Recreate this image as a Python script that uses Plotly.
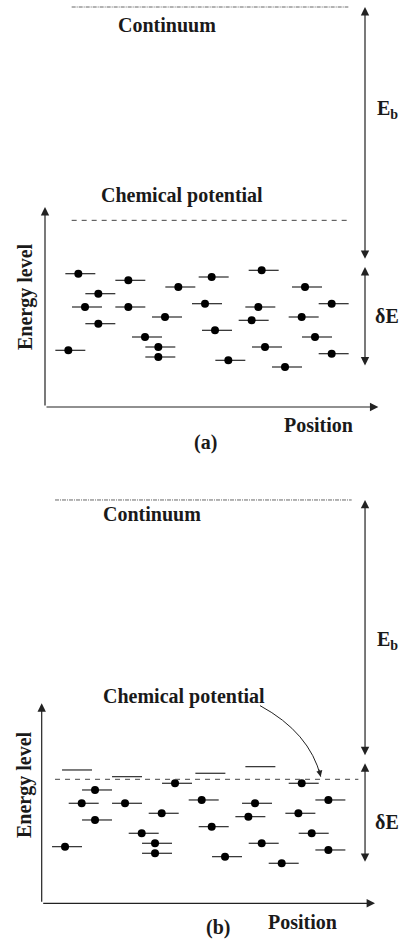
import plotly.graph_objects as go

# ---------------- data ----------------
level_position = [10, 25, 16, 40, 50, 65, 78, 12, 25, 48, 64, 86, 16,
                  36, 62, 77, 51, 30, 81, 7, 34, 34, 66, 86, 55, 72]
level_energy = [40, 38, 34, 36, 39, 41, 36, 30, 30, 31, 30, 31, 25,
                27, 26, 27, 23, 21, 21, 17, 18, 15, 18, 16, 14, 12]

continuum_a = 120
continuum_b = 121
chem_pot_a = 56
chem_pot_b = 37.2
band_top = 42
band_bottom = 12
eb_bottom = 44
axis_len_x = 100
axis_len_y = 60

# ---------------- layout constants ----------------
W, H = 404, 941
U = 10 / 3  # px per unit
FONT = "Liberation Serif"
TXT = "#1a1a1a"
LINE = "#3a3a3a"

# pixel origins of the two panels
ORG_A = (45.0, 407.0)
ORG_B = (41.7, 903.3)
SPLIT = 470

fig = go.Figure()


def panel(xa, ya, mu, cont, cont_span, mu_span, arrow_x, labels, curve=None):
    # level lines
    lx, ly = [], []
    for p, e in zip(level_position, level_energy):
        lx += [p - 3.9, p + 5.1, None]
        ly += [e, e, None]
    fig.add_trace(go.Scatter(x=lx, y=ly, mode="lines", xaxis=xa, yaxis=ya,
                             line=dict(color=LINE, width=1.3), hoverinfo="skip"))
    # occupied levels (below chemical potential)
    dx = [p for p, e in zip(level_position, level_energy) if e < mu]
    dy = [e for p, e in zip(level_position, level_energy) if e < mu]
    fig.add_trace(go.Scatter(x=dx, y=dy, mode="markers", xaxis=xa, yaxis=ya,
                             marker=dict(color="black", size=8), hoverinfo="skip"))
    # continuum line
    fig.add_trace(go.Scatter(x=list(cont_span), y=[cont, cont], mode="lines",
                             xaxis=xa, yaxis=ya, hoverinfo="skip",
                             line=dict(color="#666", width=1, dash="4px,1px,1px,1px")))
    # chemical potential
    fig.add_trace(go.Scatter(x=list(mu_span), y=[mu, mu], mode="lines",
                             xaxis=xa, yaxis=ya, hoverinfo="skip",
                             line=dict(color="#444", width=1, dash="5px,5px")))
    arrow_common = dict(xref=xa, yref=ya, axref=xa, ayref=ya, text="",
                        showarrow=True, arrowhead=2, arrowsize=1.4,
                        arrowwidth=1.2, arrowcolor="#222", standoff=0,
                        startstandoff=0)
    # coordinate axes
    fig.add_annotation(x=0, y=axis_len_y, ax=0, ay=0, **arrow_common)
    fig.add_annotation(x=axis_len_x, y=0, ax=0, ay=0, **arrow_common)
    # Eb and dE double arrows
    fig.add_annotation(x=arrow_x, y=cont, ax=arrow_x, ay=eb_bottom,
                       arrowside="end+start", **arrow_common)
    fig.add_annotation(x=arrow_x, y=band_top, ax=arrow_x, ay=band_bottom,
                       arrowside="end+start", **arrow_common)
    for txt, x, y, rot in labels:
        fig.add_annotation(x=x, y=y, xref=xa, yref=ya, text=txt, showarrow=False,
                           xanchor="center", yanchor="middle", textangle=rot,
                           font=dict(family=FONT, size=20, color=TXT))
    if curve is not None:
        (x0, y0), (cx, cy), (x1, y1) = curve
        fig.add_shape(type="path", xref=xa, yref=ya,
                      path=f"M {x0},{y0} Q {cx},{cy} {x1},{y1}",
                      line=dict(color="#222", width=1))
        fig.add_annotation(x=x1, y=y1, ax=x1 - 0.6, ay=y1 + 2.6,
                           xref=xa, yref=ya, axref=xa, ayref=ya, text="",
                           showarrow=True, arrowhead=2, arrowsize=1.2,
                           arrowwidth=1, arrowcolor="#222", standoff=0)


panel("x", "y", chem_pot_a, continuum_a, (8, 91), (8, 91), 96,
      [("<b>Continuum</b>", 36.6, 114.6, 0),
       ("<b>Chemical potential</b>", 41.1, 63.6, 0),
       ("<b>E<sub>b</sub></b>", 102.6, 89.4, 0),
       ("<b>δE</b>", 102.6, 27.3, 0),
       ("<b>Energy level</b>", -6, 33, -90),
       ("<b>Position</b>", 81.9, -5.4, 0),
       ("<b>(a)</b>", 48, -10.5, 0)])

panel("x2", "y2", chem_pot_b, continuum_b, (4, 93), (4, 95), 97,
      [("<b>Continuum</b>", 33.1, 116.8, 0),
       ("<b>Chemical potential</b>", 42.7, 61.9, 0),
       ("<b>E<sub>b</sub></b>", 103.6, 78.7, 0),
       ("<b>δE</b>", 103.6, 24.4, 0),
       ("<b>Energy level</b>", -5, 35.5, -90),
       ("<b>Position</b>", 78.1, -5.6, 0),
       ("<b>(b)</b>", 52.9, -7.4, 0)],
      curve=((65.5, 59.3), (80.4, 51.2), (83.7, 38.0)))

ax_common = dict(visible=False, showgrid=False, zeroline=False, fixedrange=True)
fig.update_layout(
    width=W, height=H,
    margin=dict(l=0, r=0, t=0, b=0),
    paper_bgcolor="white", plot_bgcolor="white",
    showlegend=False,
    xaxis=dict(domain=[0, 1], anchor="y",
               range=[(0 - ORG_A[0]) / U, (W - ORG_A[0]) / U], **ax_common),
    yaxis=dict(domain=[1 - SPLIT / H, 1], anchor="x",
               range=[(ORG_A[1] - SPLIT) / U, ORG_A[1] / U], **ax_common),
    xaxis2=dict(domain=[0, 1], anchor="y2",
                range=[(0 - ORG_B[0]) / U, (W - ORG_B[0]) / U], **ax_common),
    yaxis2=dict(domain=[0, 1 - SPLIT / H], anchor="x2",
                range=[(ORG_B[1] - H) / U, (ORG_B[1] - SPLIT) / U], **ax_common),
)

fig.write_html("out.html", config={"displayModeBar": False},
               post_script="document.body.style.margin='0';"
                           "document.body.style.overflow='hidden';")
